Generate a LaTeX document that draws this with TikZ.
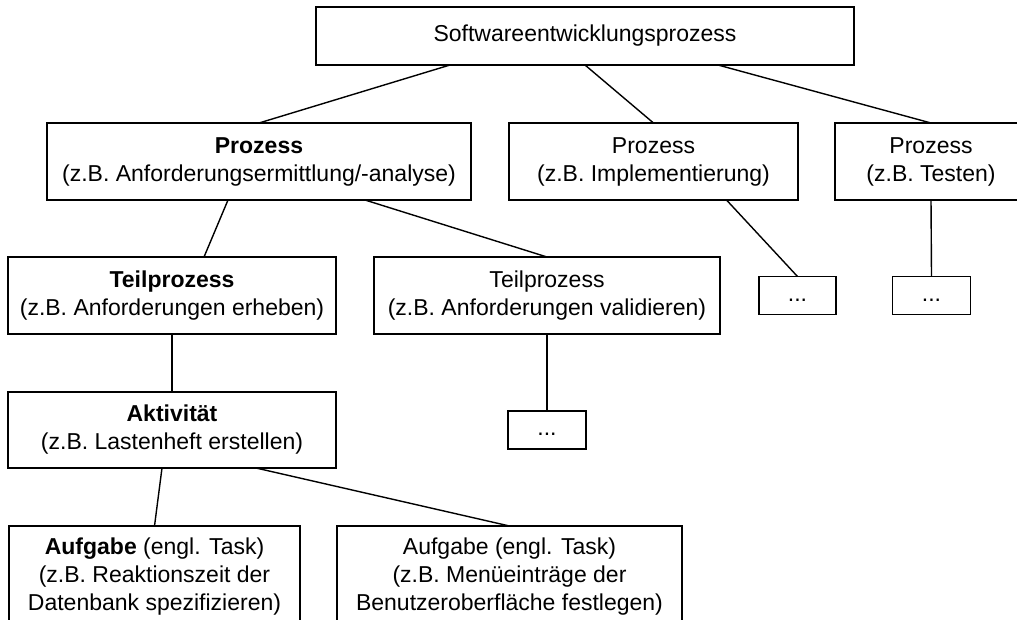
\documentclass[tikz,border=0pt]{standalone}
\usepackage{fontspec}
\setmainfont{Liberation Sans}

\begin{document}
\begin{tikzpicture}[x=1pt, y=-1pt,
    box/.style={draw, line width=1.8pt, rectangle, inner sep=0pt, outer sep=0pt, align=center, font=\fontsize{23}{28}\selectfont},
    taskbox/.style={box, minimum height=101},
    link/.style={line width=1.4pt}]
            \useasboundingbox (0, 0) rectangle (1017, 619);
            \clip (0, 0) rectangle (1017, 619);
            \node[box, minimum width=538, minimum height=58] (sw) at (585, 36) {Softwareentwicklungsprozess};
            \node[box, minimum width=424, minimum height=77] (p1) at (259, 161.5) {\textbf{Prozess}\\(z.B. Anforderungsermittlung/-analyse)};
            \node[box, minimum width=289, minimum height=77] (p2) at (653.5, 161.5) {Prozess\\(z.B. Implementierung)};
            \node[box, minimum width=192, minimum height=77] (p3) at (931, 161.5) {Prozess\\(z.B. Testen)};
            \node[box, minimum width=328, minimum height=77] (t1) at (172, 295.5) {\textbf{Teilprozess}\\(z.B. Anforderungen erheben)};
            \node[box, minimum width=346, minimum height=77] (t2) at (547, 295.5) {Teilprozess\\(z.B. Anforderungen validieren)};
            \node[box, minimum width=77, minimum height=38] (d1) at (797.5, 295.5) {\strut...};
            \node[box, minimum width=78, minimum height=38] (d2) at (931.5, 295.5) {\strut...};
            \node[box, minimum width=78, minimum height=38] (d3) at (547, 430) {\strut...};
            \node[box, minimum width=328, minimum height=76] (akt) at (172, 430) {\textbf{Aktivität}\\(z.B. Lastenheft erstellen)};
            \node[taskbox, minimum width=291] (g1) at (154.5, 576.5) {\textbf{Aufgabe} (engl. Task)\\(z.B. Reaktionszeit der\\Datenbank spezifizieren)};
            \node[taskbox, minimum width=345] (g2) at (509.5, 576.5) {Aufgabe (engl. Task)\\(z.B. Menüeinträge der\\Benutzeroberfläche festlegen)};
            \draw[link] ([xshift=-135pt]sw.south) -- (p1.north);
            \draw[link] (sw.south) -- (p2.north);
            \draw[link] ([xshift=133pt]sw.south) -- (p3.north);
            \draw[link] ([xshift=-31pt]p1.south) -- ([xshift=32pt]t1.north);
            \draw[link] ([xshift=106pt]p1.south) -- (t2.north);
            \draw[link] ([xshift=73pt]p2.south) -- (d1.north);
            \draw[link] (p3.south) -- (d2.north);
            \draw[link] (t2.south) -- (d3.north);
            \draw[link] (t1.south) -- (akt.north);
            \draw[link] ([xshift=-10pt]akt.south) -- (g1.north);
            \draw[link] ([xshift=84pt]akt.south) -- (g2.north);
        \end{tikzpicture}
\end{document}
